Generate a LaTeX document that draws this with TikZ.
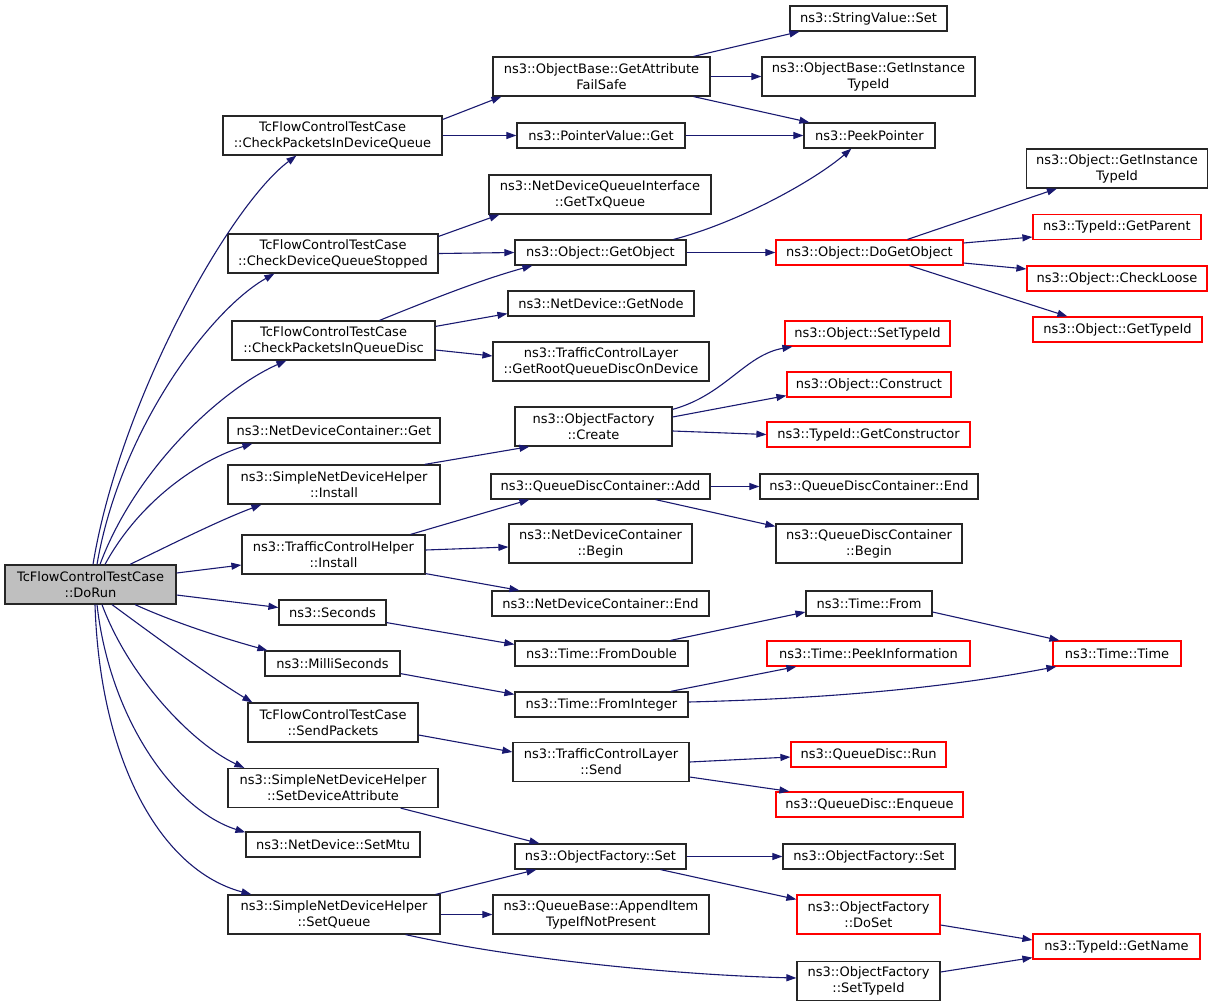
\documentclass[tikz,border=0pt]{standalone}
\usepackage{fontspec}
\setmainfont{DejaVu Sans}
\usepackage{xcolor}
\definecolor{callblue}{HTML}{191970}
\definecolor{missred}{HTML}{FF0000}
\definecolor{rootgray}{HTML}{BFBFBF}
\usepackage{tikz}
\usetikzlibrary{arrows.meta}

\tikzset{
  fn/.style={draw=black!85, line width=1.2pt, fill=white, inner sep=2pt, align=center,
    minimum height=25pt, font=\fontsize{13}{16}\selectfont},
  fntwo/.style={fn, minimum height=39pt},
  fnred/.style={fn, draw=missred},
  fnredtwo/.style={fntwo, draw=missred},
  fnroot/.style={fntwo, fill=rootgray},
  call/.style={draw=callblue, line width=1.1pt, -{Triangle[length=10pt,width=7pt]}},
}

\begin{document}
\begin{tikzpicture}[x=1pt, y=-1pt]
  \useasboundingbox (0,0) rectangle (1213,1007);

  % caller
  \node[fnroot, minimum width=171pt] (dorun) at (90.5,584.5) {TcFlowControlTestCase\\::DoRun};

  % first level
  \node[fntwo, minimum width=219pt] (cpdq) at (332.5,135.5) {TcFlowControlTestCase\\::CheckPacketsInDeviceQueue};
  \node[fntwo, minimum width=210pt] (cdqs) at (333,253.5) {TcFlowControlTestCase\\::CheckDeviceQueueStopped};
  \node[fntwo, minimum width=203pt] (cpqd) at (333.5,340.5) {TcFlowControlTestCase\\::CheckPacketsInQueueDisc};
  \node[fn, minimum width=212pt] (ndcget) at (334,430.5) {ns3::NetDeviceContainer::Get};
  \node[fntwo, minimum width=212pt] (sndhinst) at (334,484.5) {ns3::SimpleNetDeviceHelper\\::Install};
  \node[fntwo, minimum width=183pt] (tchinst) at (333.5,554.5) {ns3::TrafficControlHelper\\::Install};
  \node[fn, minimum width=107pt] (seconds) at (332.5,612.5) {ns3::Seconds};
  \node[fn, minimum width=135pt] (milli) at (332.5,663.5) {ns3::MilliSeconds};
  \node[fntwo, minimum width=170pt] (sendpk) at (333,722.5) {TcFlowControlTestCase\\::SendPackets};
  \node[fntwo, minimum width=210pt] (setdevattr) at (333,788) {ns3::SimpleNetDeviceHelper\\::SetDeviceAttribute};
  \node[fn, minimum width=174pt] (setmtu) at (333,844.5) {ns3::NetDevice::SetMtu};
  \node[fntwo, minimum width=212pt] (setqueue) at (334,914.5) {ns3::SimpleNetDeviceHelper\\::SetQueue};

  % second level
  \node[fntwo, minimum width=217pt] (gafs) at (601.5,76.5) {ns3::ObjectBase::GetAttribute\\FailSafe};
  \node[fn, minimum width=168pt] (pvget) at (601,135.5) {ns3::PointerValue::Get};
  \node[fntwo, minimum width=222pt] (gettxq) at (600,194.5) {ns3::NetDeviceQueueInterface\\::GetTxQueue};
  \node[fn, minimum width=171pt] (getobj) at (600.5,252.5) {ns3::Object::GetObject};
  \node[fn, minimum width=186pt] (getnode) at (601,303.5) {ns3::NetDevice::GetNode};
  \node[fntwo, minimum width=216pt] (getroot) at (601,361.5) {ns3::TrafficControlLayer\\::GetRootQueueDiscOnDevice};
  \node[fntwo, minimum width=157pt] (ofcreate) at (593.5,426.5) {ns3::ObjectFactory\\::Create};
  \node[fn, minimum width=219pt] (qdcadd) at (600.5,486.5) {ns3::QueueDiscContainer::Add};
  \node[fntwo, minimum width=183pt] (ndcbegin) at (600.5,543.5) {ns3::NetDeviceContainer\\::Begin};
  \node[fn, minimum width=217pt] (ndcend) at (600.5,603.5) {ns3::NetDeviceContainer::End};
  \node[fn, minimum width=173pt] (fromdouble) at (601.5,653.5) {ns3::Time::FromDouble};
  \node[fn, minimum width=173pt] (fromint) at (601.5,704.5) {ns3::Time::FromInteger};
  \node[fntwo, minimum width=176pt] (tclsend) at (601,762) {ns3::TrafficControlLayer\\::Send};
  \node[fn, minimum width=171pt] (ofset) at (600.5,856.5) {ns3::ObjectFactory::Set};
  \node[fntwo, minimum width=216pt] (appenditem) at (601,914.5) {ns3::QueueBase::AppendItem\\TypeIfNotPresent};

  % third level
  \node[fn, minimum width=157pt] (svset) at (868.5,18.5) {ns3::StringValue::Set};
  \node[fntwo, minimum width=213pt] (obgit) at (868.5,76.5) {ns3::ObjectBase::GetInstance\\TypeId};
  \node[fn, minimum width=131pt] (peek) at (869.5,135.5) {ns3::PeekPointer};
  \node[fnred, minimum width=187pt] (dogetobj) at (869.5,252.5) {ns3::Object::DoGetObject};
  \node[fnred, minimum width=165pt] (settypeid) at (867.5,333.5) {ns3::Object::SetTypeId};
  \node[fnred, minimum width=164pt] (construct) at (869,384.5) {ns3::Object::Construct};
  \node[fnred, minimum width=203pt] (getctor) at (868.5,434.5) {ns3::TypeId::GetConstructor};
  \node[fn, minimum width=218pt] (qdcend) at (869,486.5) {ns3::QueueDiscContainer::End};
  \node[fntwo, minimum width=186pt] (qdcbegin) at (869,543.5) {ns3::QueueDiscContainer\\::Begin};
  \node[fn, minimum width=126pt] (timefrom) at (869,603.5) {ns3::Time::From};
  \node[fnred, minimum width=203pt] (peekinfo) at (868.5,653.5) {ns3::Time::PeekInformation};
  \node[fnred, minimum width=155pt] (qdrun) at (868.5,754.5) {ns3::QueueDisc::Run};
  \node[fnred, minimum width=187pt] (qdenq) at (869.5,804.5) {ns3::QueueDisc::Enqueue};
  \node[fn, minimum width=172pt] (ofset2) at (869,856.5) {ns3::ObjectFactory::Set};
  \node[fnredtwo, minimum width=143pt] (doset) at (868.5,914.5) {ns3::ObjectFactory\\::DoSet};
  \node[fntwo, minimum width=143pt] (ofsettid) at (868.5,981) {ns3::ObjectFactory\\::SetTypeId};

  % fourth level
  \node[fntwo, minimum width=181pt] (objgit) at (1117,168.5) {ns3::Object::GetInstance\\TypeId};
  \node[fnred, minimum width=168pt] (getparent) at (1117,227) {ns3::TypeId::GetParent};
  \node[fnred, minimum width=180pt] (checkloose) at (1117,278.5) {ns3::Object::CheckLoose};
  \node[fnred, minimum width=169pt] (gettypeid) at (1117.5,329.5) {ns3::Object::GetTypeId};
  \node[fnred, minimum width=128pt] (timetime) at (1117,653.5) {ns3::Time::Time};
  \node[fnred, minimum width=167pt] (getname) at (1116.5,946.5) {ns3::TypeId::GetName};

  % calls from DoRun
  \draw[call] ([xshift=2.5pt]dorun.north) .. controls (120,400) and (230,205) .. ([xshift=74pt]cpdq.south west);
  \draw[call] ([xshift=6.5pt]dorun.north) .. controls (120,430) and (210,310) .. ([xshift=47pt]cdqs.south west);
  \draw[call] ([xshift=9.5pt]dorun.north) .. controls (135,470) and (220,390) .. ([xshift=55pt]cpqd.south west);
  \draw[call] ([xshift=14.5pt]dorun.north) .. controls (140,500) and (200,460) .. ([xshift=25pt]ndcget.south west);
  \draw[call] ([xshift=39.5pt]dorun.north) .. controls (170,545) and (220,520) .. ([xshift=34pt]sndhinst.south west);
  \draw[call] ([yshift=11.5pt]dorun.east) -- ([yshift=-10.5pt]tchinst.west);
  \draw[call] ([yshift=-10.5pt]dorun.east) -- ([yshift=5pt]seconds.west);
  \draw[call] ([xshift=44.5pt]dorun.south) .. controls (180,625) and (230,640) .. ([xshift=3pt]milli.north west);
  \draw[call] ([xshift=21.5pt]dorun.south) .. controls (160,640) and (215,680) .. ([xshift=5pt]sendpk.north west);
  \draw[call] ([xshift=11.5pt]dorun.south) .. controls (130,680) and (195,745) .. ([xshift=17pt]setdevattr.north west);
  \draw[call] ([xshift=6.5pt]dorun.south) .. controls (110,720) and (175,810) .. ([yshift=-1pt]setmtu.north west);
  \draw[call] ([xshift=4.5pt]dorun.south) .. controls (100,760) and (160,870) .. ([xshift=24pt]setqueue.north west);

  % CheckPacketsInDeviceQueue
  \draw[call] ([yshift=16pt]cpdq.east) -- ([xshift=9pt]gafs.south west);
  \draw[call] (cpdq.east) -- (pvget.west);
  \draw[call] ([xshift=-17pt]gafs.north east) -- ([xshift=10pt]svset.south west);
  \draw[call] (gafs.east) -- (obgit.west);
  \draw[call] ([xshift=-17pt]gafs.south east) -- ([xshift=6pt]peek.north west);
  \draw[call] (pvget.east) -- (peek.west);

  % CheckDeviceQueueStopped
  \draw[call] ([yshift=-3pt]cdqs.north east) -- ([xshift=11pt]gettxq.south west);
  \draw[call] (cdqs.east) -- (getobj.west);
  \draw[call] ([xshift=-13pt]getobj.north east) .. controls (740,222) and (815,180) .. ([xshift=48pt]peek.south west);
  \draw[call] (getobj.east) -- (dogetobj.west);
  \draw[call] ([xshift=38pt]dogetobj.north) -- ([xshift=31pt]objgit.south west);
  \draw[call] ([yshift=9.5pt]dogetobj.east) -- ([yshift=-10pt]getparent.west);
  \draw[call] ([yshift=-10.5pt]dogetobj.east) -- ([yshift=9.5pt]checkloose.west);
  \draw[call] ([xshift=40pt]dogetobj.south) -- ([xshift=35pt]gettypeid.north west);

  % CheckPacketsInQueueDisc
  \draw[call] ([xshift=46pt]cpqd.north) .. controls (430,300) and (480,280) .. ([xshift=18pt]getobj.south west);
  \draw[call] ([yshift=-6pt]cpqd.north east) -- ([yshift=3pt]getnode.south west);
  \draw[call] ([yshift=-9.5pt]cpqd.east) -- ([yshift=5.5pt]getroot.west);

  % Install
  \draw[call] ([xshift=-16pt]sndhinst.north east) -- ([xshift=15pt]ofcreate.south west);
  \draw[call] ([yshift=-3pt]ofcreate.north east) .. controls (725,395) and (745,355) .. ([xshift=8pt]settypeid.south west);
  \draw[call] ([yshift=9.5pt]ofcreate.east) -- ([yshift=2pt]construct.south west);
  \draw[call] ([yshift=-4.5pt]ofcreate.east) -- (getctor.west);
  \draw[call] ([xshift=-15pt]tchinst.north east) -- ([xshift=39pt]qdcadd.south west);
  \draw[call] ([yshift=4.5pt]tchinst.east) -- ([yshift=-3.5pt]ndcbegin.west);
  \draw[call] ([yshift=1pt]tchinst.south east) -- ([xshift=28pt]ndcend.north west);
  \draw[call] (qdcadd.east) -- (qdcend.west);
  \draw[call] ([xshift=-55pt]qdcadd.south east) -- ([yshift=-3pt]qdcbegin.north west);

  % time
  \draw[call] ([yshift=3pt]seconds.south east) -- ([yshift=-4pt]fromdouble.north west);
  \draw[call] ([xshift=-18pt]fromdouble.north east) -- ([yshift=-8.5pt]timefrom.west);
  \draw[call] ([yshift=-8.5pt]timefrom.east) -- ([xshift=7pt]timetime.north west);
  \draw[call] ([yshift=3pt]milli.south east) -- ([yshift=-3pt]fromint.north west);
  \draw[call] ([xshift=-18pt]fromint.north east) -- ([xshift=30pt]peekinfo.south west);
  \draw[call] ([yshift=2.5pt]fromint.east) .. controls (850,698) and (960,685) .. ([xshift=4pt]timetime.south west);

  % SendPackets
  \draw[call] ([yshift=-12.5pt]sendpk.east) -- ([yshift=10pt]tclsend.west);
  \draw[call] (tclsend.east) -- ([yshift=-2.5pt]qdrun.west);
  \draw[call] ([yshift=-15pt]tclsend.east) -- ([xshift=14pt]qdenq.north west);

  % object factory
  \draw[call] ([xshift=-38pt]setdevattr.south east) -- ([xshift=25pt]ofset.north west);
  \draw[call] ([xshift=-5pt]setqueue.north east) -- ([xshift=22pt]ofset.south west);
  \draw[call] (setqueue.east) -- (appenditem.west);
  \draw[call] ([xshift=-35pt]setqueue.south east) .. controls (520,960) and (680,975) .. ([yshift=3pt]ofsettid.west);
  \draw[call] (ofset.east) -- (ofset2.west);
  \draw[call] ([xshift=-26pt]ofset.south east) -- ([yshift=-5pt]doset.north west);
  \draw[call] ([yshift=-10.5pt]doset.east) -- ([yshift=6.5pt]getname.west);
  \draw[call] ([yshift=9pt]ofsettid.east) -- ([yshift=2pt]getname.south west);
\end{tikzpicture}
\end{document}
